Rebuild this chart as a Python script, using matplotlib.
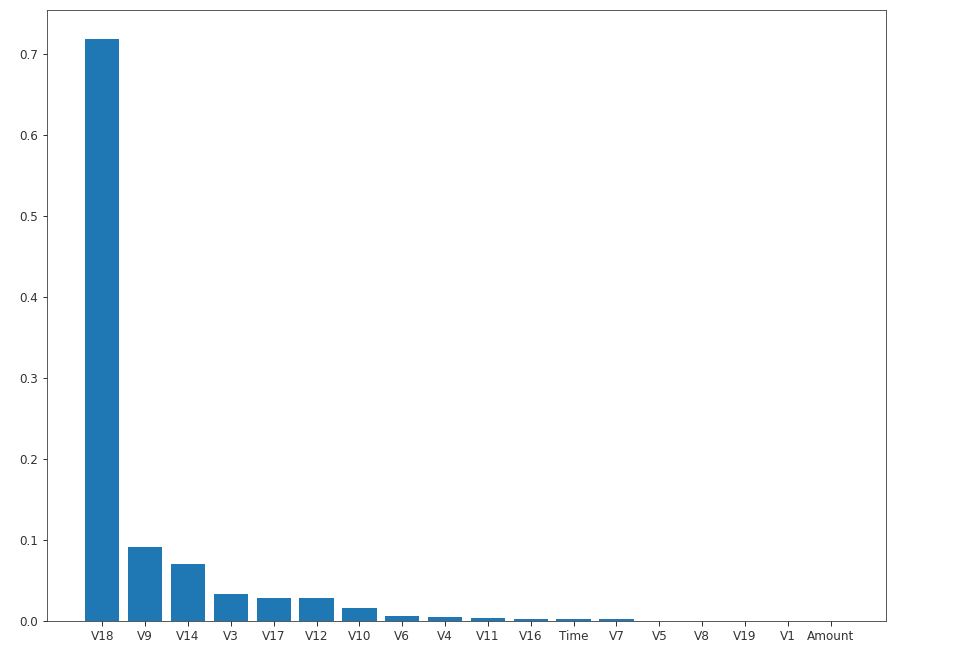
import matplotlib
matplotlib.use('Agg')
import matplotlib.pyplot as plt

# Feature names and their importance scores, in plotted order
features = ['V18', 'V9', 'V14', 'V3', 'V17', 'V12', 'V10', 'V6', 'V4',
            'V11', 'V16', 'Time', 'V7', 'V5', 'V8', 'V19', 'V1', 'Amount']
importances = [0.7185, 0.091, 0.070, 0.033, 0.028, 0.028, 0.016, 0.0065, 0.005,
               0.0037, 0.002, 0.002, 0.002, 0.0003, 0.0002, 0.0002, 0.0001, 0.0001]

fig = plt.figure(figsize=(956 / 72, 656 / 72), dpi=72)
ax = fig.add_axes([47 / 956, 1 - 621 / 656, (886 - 47) / 956, (621 - 10) / 656])
ax.bar(features, importances)
# Slightly larger, softer tick labels as in the reference
ax.tick_params(labelsize=12, length=4.5, width=1, pad=4.5, labelcolor='#333333', color='#333333')
for s in ax.spines.values():
    s.set_color('#333333')
fig.savefig('out.png', dpi=72)
